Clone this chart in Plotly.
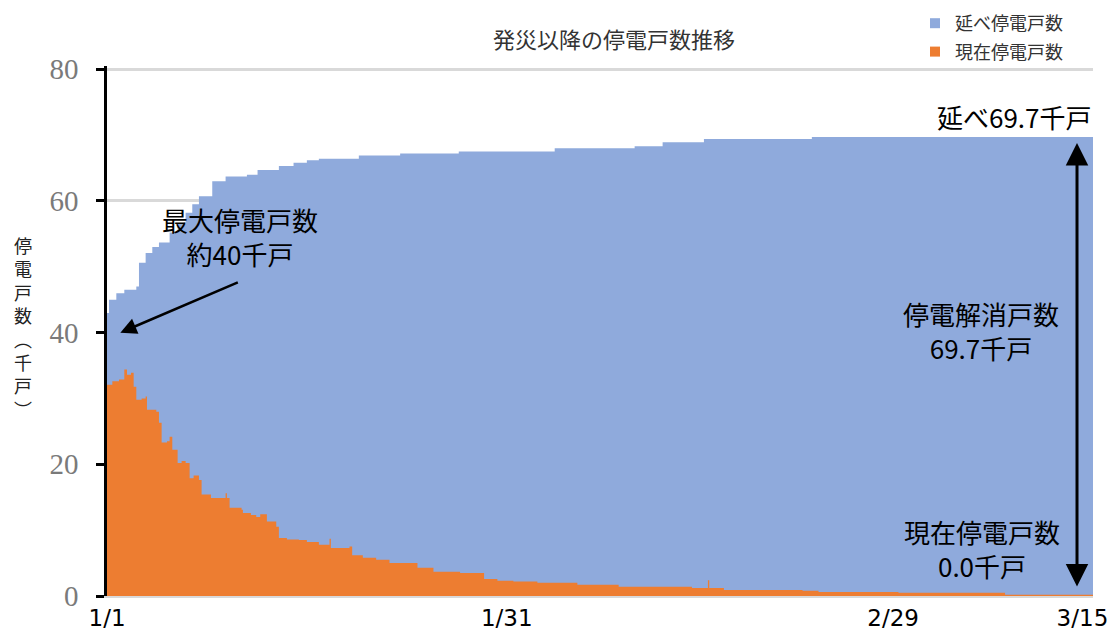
import pandas as pd
import plotly.graph_objects as go

# Elapsed days since 2024-01-01 and outage counts (thousand households)
total_days = [0.0, 0.15, 0.7, 1.3, 2.2, 2.4, 2.9, 3.4, 3.9, 4.7, 5.3, 5.9, 6.4, 6.9,
              7.9, 8.9, 10.5, 11.3, 12.9, 14.0, 15.0, 15.9, 18.9, 22.0, 26.4, 33.6,
              39.6, 41.7, 44.8, 52.9, 74.0]
total_vals = [43.0, 45.0, 46.0, 46.5, 47.0, 50.6, 52.1, 53.0, 53.7, 55.2, 56.5, 58.2,
              59.5, 60.7, 63.0, 63.7, 64.0, 64.7, 65.3, 65.8, 66.2, 66.4, 66.9, 67.2,
              67.5, 68.0, 68.3, 68.9, 69.4, 69.7, 69.7]

current_days = [0.0, 0.4, 0.9, 1.3, 1.5, 1.8, 2.0, 2.2, 2.6, 2.9, 3.0, 3.7, 3.9, 4.1,
                4.5, 4.7, 4.9, 5.3, 5.6, 5.9, 6.2, 6.5, 6.9, 7.1, 7.8, 8.9, 9.0, 9.2,
                10.1, 10.2, 10.8, 11.2, 11.5, 12.0, 12.7, 12.9, 13.5, 14.4, 15.0, 15.9,
                16.7, 16.8, 18.2, 18.4, 19.2, 20.2, 21.2, 23.3, 24.5, 26.5, 28.3, 29.3,
                30.5, 32.3, 35.3, 38.4, 43.9, 45.1, 45.2, 46.3, 52.2, 53.4, 59.4, 67.4,
                74.0]
current_vals = [32.1, 32.6, 32.9, 34.4, 33.6, 33.9, 31.8, 29.8, 30.0, 30.3, 28.3, 28.0,
                26.3, 23.3, 23.5, 24.2, 22.2, 20.2, 20.5, 20.2, 17.9, 18.3, 17.6, 15.4,
                14.9, 15.6, 14.9, 13.4, 13.1, 12.6, 12.3, 12.0, 12.4, 11.3, 10.5, 8.8,
                8.6, 8.5, 8.2, 7.8, 8.7, 7.3, 7.5, 6.2, 5.8, 5.5, 5.0, 4.3, 3.7, 3.5,
                2.6, 2.3, 2.2, 2.0, 1.7, 1.4, 1.2, 2.4, 1.2, 0.9, 0.8, 0.6, 0.5, 0.2,
                0.0]

# last label sits just inside the right edge of the axis
tick_dates = ["2024-01-01", "2024-01-31", "2024-02-29", "2024-03-14 05:00"]
tick_labels = ["1/1", "1/31", "2/29", "3/15"]
y_ticks = [0, 20, 40, 60, 80]

peak_label_value = 40
total_now = total_vals[-1]
current_now = current_vals[-1]
resolved_now = total_now - current_now

start = pd.Timestamp("2024-01-01")


def at(days):
    return start + pd.to_timedelta(days, unit="D")


BLUE = "#8FAADC"
ORANGE = "#ED7D31"
CJK = "Noto Sans CJK JP"

# plot-area edges in pixels, and pixel -> paper helpers
L, R, T, B = 107, 1093, 66, 596
Y_MAX = 80.5


def px(x):
    return (x - L) / (R - L)


def py(y):
    return (B - y) / (B - T)


fig = go.Figure()
fig.add_trace(go.Scatter(x=at(pd.Series(total_days)), y=total_vals, mode="none",
                         fill="tozeroy", fillcolor=BLUE, line_shape="hv",
                         showlegend=False, name="延べ停電戸数"))
fig.add_trace(go.Scatter(x=at(pd.Series(current_days)), y=current_vals, mode="none",
                         fill="tozeroy", fillcolor=ORANGE, line_shape="hv",
                         showlegend=False, name="現在停電戸数"))
# legend keys
for name, col, grp in [("延べ停電戸数", BLUE, "a"), ("現在停電戸数", ORANGE, "b")]:
    fig.add_trace(go.Scatter(x=[None], y=[None], mode="markers", name=name,
                             legendgroup=grp,
                             marker=dict(symbol="square", size=10, color=col)))


def label(text, x, y, xanchor="center", size=26):
    return dict(text=text, xref="paper", yref="paper", x=px(x), y=py(y),
                xanchor=xanchor, yanchor="middle", showarrow=False,
                font=dict(family=CJK, size=size, color="#000"))


annotations = [
    # vertical y-axis title with upright characters
    dict(text="<br>".join("停電戸数︵千戸︶"), xref="paper", yref="paper",
         x=px(23), y=py(327), xanchor="center", yanchor="middle", showarrow=False,
         font=dict(family=CJK, size=18, color="#222")),
    label(f"最大停電戸数<br>約{peak_label_value}千戸", 240, 236),
    dict(text="", x=at(1.0), y=peak_label_value, ax=119, ay=-51, showarrow=True,
         arrowhead=2, arrowsize=1.3, arrowwidth=2.5, arrowcolor="#000"),
    label(f"延べ{total_now:.1f}千戸", 1094, 117, xanchor="right"),
    label(f"停電解消戸数<br>{resolved_now:.1f}千戸", 981, 330),
    label(f"現在停電戸数<br>{current_now:.1f}千戸", 982, 548),
    dict(text="", x=at(72.8), y=total_now, ax=at(72.8), ay=current_now,
         axref="x", ayref="y", showarrow=True, arrowside="end+start",
         arrowhead=2, startarrowhead=2, arrowsize=1.5, startarrowsize=1.5,
         arrowwidth=3, arrowcolor="#000", standoff=6, startstandoff=8),
]

fig.update_layout(
    width=1114, height=634,
    margin=dict(l=L, r=1114 - R, t=T, b=634 - B, autoexpand=False),
    paper_bgcolor="white", plot_bgcolor="white",
    title=dict(text="発災以降の停電戸数推移", x=px(614), xref="paper", xanchor="center",
               y=1 - 40 / 634, yref="container", yanchor="middle",
               font=dict(family=CJK, size=22, color="#333")),
    legend=dict(x=px(915), y=py(5), xanchor="left", yanchor="top",
                traceorder="grouped", tracegroupgap=2,
                font=dict(family=CJK, size=18, color="#333"),
                bgcolor="rgba(0,0,0,0)"),
    annotations=annotations,
    xaxis=dict(range=[at(0), at(74)], tickvals=tick_dates, ticktext=tick_labels,
               automargin=False,
               showgrid=False, zeroline=False, showline=True, linecolor="#D9D9D9",
               linewidth=2, ticks="", tickfont=dict(family="DejaVu Sans", size=23,
                                                    color="#000")),
    yaxis=dict(range=[0, Y_MAX], tickvals=y_ticks, showgrid=True, gridcolor="#D9D9D9",
               automargin=False,
               gridwidth=3, zeroline=False, showline=True, linecolor="#000",
               linewidth=2.5, ticks="outside", ticklen=8, tickwidth=2.5,
               tickcolor="#000", ticklabelstandoff=12,
               tickfont=dict(family="Liberation Serif", size=29, color="#7A7A7A")),
)

fig.write_html("out.html")
